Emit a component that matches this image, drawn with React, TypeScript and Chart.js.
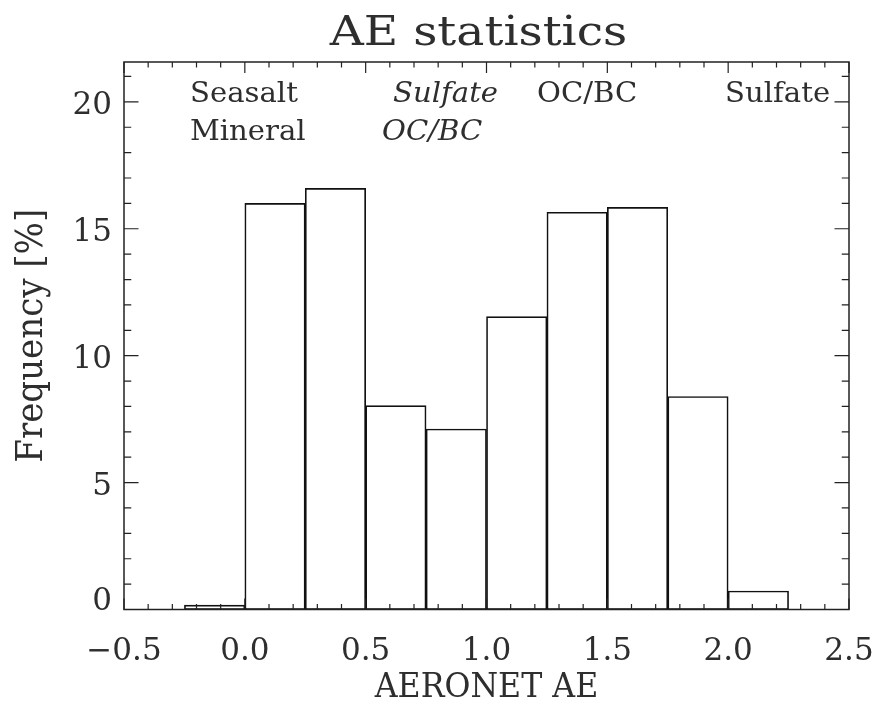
import React, { useEffect, useRef } from 'react';
import { Chart, registerables } from 'chart.js';

Chart.register(...registerables);

// ---- data ----
const binCenters = [-0.375, -0.125, 0.125, 0.375, 0.625, 0.875, 1.125, 1.375, 1.625, 1.875, 2.125, 2.375];
const frequency = [0, 0.17, 16.0, 16.59, 8.03, 7.11, 11.54, 15.65, 15.84, 8.39, 0.73, 0];

const xTickValues = [-0.5, 0, 0.5, 1.0, 1.5, 2.0, 2.5];
const xTickLabels = ['\u22120.5', '0.0', '0.5', '1.0', '1.5', '2.0', '2.5'];
const yTickValues = [0, 5, 10, 15, 20];
const yTickLabels = ['0', '5', '10', '15', '20'];

const annotationTexts = ['Seasalt', 'Mineral', 'Sulfate', 'OC/BC', 'OC/BC', 'Sulfate'];
const annotationX = [-0.227, -0.227, 0.613, 0.568, 1.209, 1.987];
const annotationY = [20, 18.5, 20, 18.5, 20, 20];
const annotationItalic = [false, false, true, true, false, false];

const titleText = 'AE statistics';
const xTitleText = 'AERONET AE';
const yTitleText = 'Frequency [%]';

const X_MIN = -0.5;
const X_MAX = 2.5;
const Y_MAX = 21.57;

const FONT = '"DejaVu Serif", "Liberation Serif", serif';
const INK = '#2e2e2e';

function drawScaledText(ctx: CanvasRenderingContext2D, text: string, x: number, y: number, sx: number, align: CanvasTextAlign) {
  ctx.save();
  ctx.translate(x, y);
  ctx.scale(sx, 1);
  ctx.textAlign = align;
  ctx.fillText(text, 0, 0);
  ctx.restore();
}

const idlFrame = {
  id: 'idlFrame',
  beforeDraw(chart: any) {
    const { ctx, width, height } = chart;
    ctx.save();
    ctx.fillStyle = '#ffffff';
    ctx.fillRect(0, 0, width, height);
    ctx.restore();
  },
  afterDatasetsDraw(chart: any) {
    const { ctx, chartArea: a } = chart;
    const xs = chart.scales.x;
    const ys = chart.scales.y;
    ctx.save();
    // frame
    ctx.strokeStyle = '#222';
    ctx.lineWidth = 1.5;
    ctx.strokeRect(a.left, a.top, a.right - a.left, a.bottom - a.top);

    // x ticks (major 0.5, minor 0.1)
    ctx.lineWidth = 1.2;
    ctx.beginPath();
    for (let i = 0; i <= 30; i++) {
      const v = X_MIN + i * 0.1;
      const px = xs.getPixelForValue(v);
      const len = i % 5 === 0 ? 11 : 5.5;
      ctx.moveTo(px, a.bottom);
      ctx.lineTo(px, a.bottom - len);
      ctx.moveTo(px, a.top);
      ctx.lineTo(px, a.top + len);
    }
    // y ticks (major 5, minor 1)
    for (let v = 0; v <= Math.floor(Y_MAX); v++) {
      const py = ys.getPixelForValue(v);
      const len = v % 5 === 0 ? 14.5 : 7.25;
      ctx.moveTo(a.left, py);
      ctx.lineTo(a.left + len, py);
      ctx.moveTo(a.right, py);
      ctx.lineTo(a.right - len, py);
    }
    ctx.stroke();

    ctx.fillStyle = INK;
    // x tick labels
    ctx.font = `31px ${FONT}`;
    ctx.textBaseline = 'alphabetic';
    xTickValues.forEach((v, i) => {
      drawScaledText(ctx, xTickLabels[i], xs.getPixelForValue(v), a.bottom + 50.5, 1, 'center');
    });
    // y tick labels
    yTickValues.forEach((v, i) => {
      const py = Math.min(ys.getPixelForValue(v) + 12.5, a.bottom);
      drawScaledText(ctx, yTickLabels[i], a.left - 12, py, 1, 'right');
    });

    // annotations
    annotationTexts.forEach((t, i) => {
      ctx.font = `${annotationItalic[i] ? 'italic ' : ''}28px ${FONT}`;
      drawScaledText(ctx, t, xs.getPixelForValue(annotationX[i]), ys.getPixelForValue(annotationY[i]), 1.04, 'left');
    });

    // title
    const cx = (a.left + a.right) / 2;
    ctx.font = `41px ${FONT}`;
    drawScaledText(ctx, titleText, cx - 8, 45, 1.15, 'center');
    // x title
    ctx.font = `34px ${FONT}`;
    drawScaledText(ctx, xTitleText, cx, 697, 0.93, 'center');
    // y title
    ctx.save();
    ctx.translate(42, (a.top + a.bottom) / 2);
    ctx.rotate(-Math.PI / 2);
    ctx.font = `37px ${FONT}`;
    drawScaledText(ctx, yTitleText, 0, 0, 0.92, 'center');
    ctx.restore();

    ctx.restore();
  },
};

export default function App() {
  const canvasRef = useRef<HTMLCanvasElement | null>(null);

  useEffect(() => {
    document.body.style.margin = '0';
    const canvas = canvasRef.current;
    if (!canvas) return;
    const chart = new Chart(canvas, {
      type: 'bar',
      data: {
        datasets: [
          {
            data: binCenters.map((c, i) => ({ x: c, y: frequency[i] })),
            backgroundColor: 'rgba(255,255,255,0)',
            borderColor: '#111',
            borderWidth: 1,
            borderSkipped: false,
            barPercentage: 1,
            categoryPercentage: 1,
          } as any,
        ],
      },
      options: {
        animation: false,
        responsive: false,
        devicePixelRatio: 1,
        layout: { padding: { left: 124, top: 62, right: 28, bottom: 94.5 } },
        plugins: {
          legend: { display: false },
          tooltip: { enabled: false },
          title: { display: false },
        },
        scales: {
          x: {
            type: 'linear',
            min: X_MIN,
            max: X_MAX,
            offset: false,
            display: false,
            ticks: { stepSize: 0.5 },
          },
          y: {
            type: 'linear',
            min: 0,
            max: Y_MAX,
            display: false,
            ticks: { stepSize: 5 },
          },
        },
      },
      plugins: [idlFrame],
    });
    return () => chart.destroy();
  }, []);

  return (
    <div style={{ position: 'absolute', left: 0, top: 0, width: 877, height: 704 }}>
      <canvas ref={canvasRef} width={877} height={704} style={{ display: 'block', width: 877, height: 704 }} />
    </div>
  );
}
